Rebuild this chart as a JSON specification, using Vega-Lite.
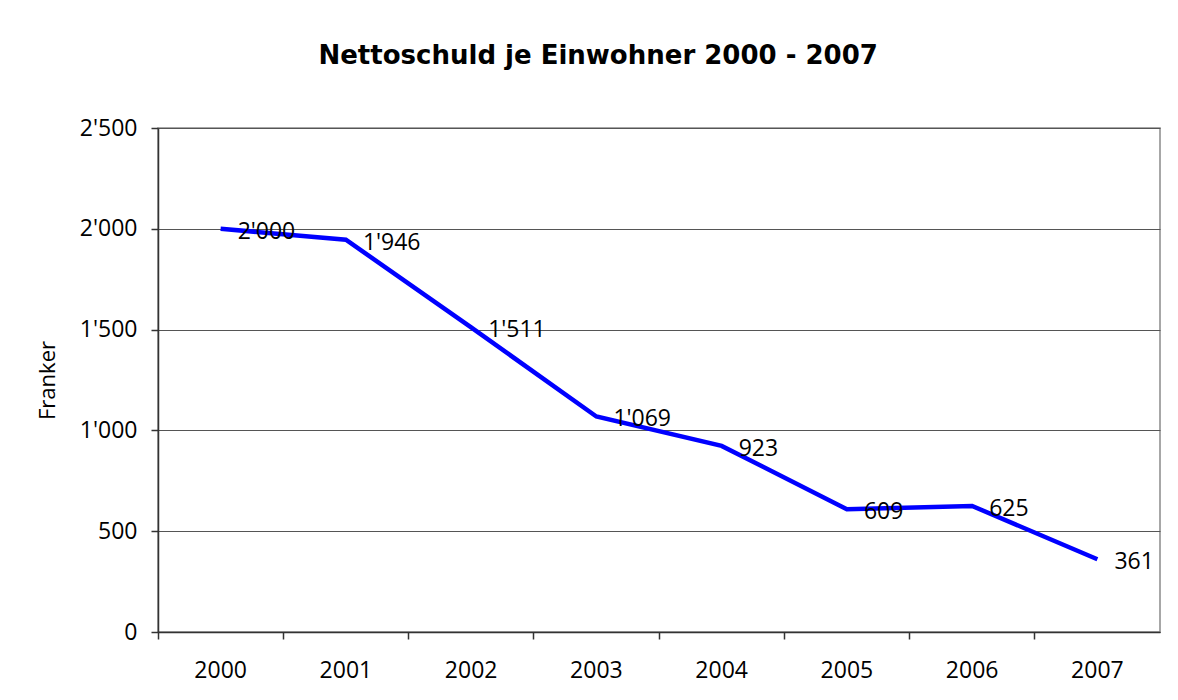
{
  "$schema": "https://vega.github.io/schema/vega-lite/v6.json",
  "width": 1002,
  "height": 504,
  "autosize": "none",
  "padding": {"left": 158, "top": 128, "right": 18, "bottom": 68},
  "background": "white",
  "title": {
    "text": "Nettoschuld je Einwohner 2000 - 2007",
    "font": "DejaVu Sans",
    "fontSize": 26,
    "fontWeight": "bold",
    "color": "black",
    "anchor": "middle",
    "frame": "bounds",
    "offset": 48
  },
  "config": {
    "locale": {"number": {"decimal": ".", "thousands": "'", "grouping": [3], "currency": ["", ""]}},
    "view": {"stroke": "#8a8a8a", "strokeWidth": 1.5},
    "axis": {
      "labelFont": "Open Sans",
      "labelFontSize": 23,
      "labelColor": "black",
      "titleFont": "Open Sans",
      "titleFontSize": 22,
      "titleFontWeight": "normal",
      "titleColor": "black",
      "domainColor": "#333333",
      "domainWidth": 1.5,
      "tickColor": "#333333",
      "tickWidth": 1.5
    }
  },
  "data": {
    "values": [
      {"Jahr": "2000", "Wert": 2000},
      {"Jahr": "2001", "Wert": 1946},
      {"Jahr": "2002", "Wert": 1511},
      {"Jahr": "2003", "Wert": 1069},
      {"Jahr": "2004", "Wert": 923},
      {"Jahr": "2005", "Wert": 609},
      {"Jahr": "2006", "Wert": 625},
      {"Jahr": "2007", "Wert": 361}
    ]
  },
  "encoding": {
    "x": {
      "field": "Jahr",
      "type": "ordinal",
      "scale": {"type": "band", "paddingInner": 0, "paddingOuter": 0},
      "axis": {
        "title": null,
        "labelAngle": 0,
        "bandPosition": 0,
        "tickSize": 7,
        "labelPadding": 20,
        "grid": false
      }
    },
    "y": {
      "field": "Wert",
      "type": "quantitative",
      "scale": {"domain": [0, 2500]},
      "axis": {
        "title": "Franker",
        "values": [0, 500, 1000, 1500, 2000, 2500],
        "format": ",.0f",
        "tickSize": 7,
        "labelPadding": 14,
        "titlePadding": 20,
        "grid": true,
        "gridColor": "#555555",
        "gridWidth": 1.2
      }
    }
  },
  "layer": [
    {
      "mark": {"type": "line", "color": "#0000ff", "strokeWidth": 4.5}
    },
    {
      "mark": {"type": "text", "align": "left", "baseline": "middle", "dx": 17, "dy": 3, "font": "Open Sans", "fontSize": 23, "color": "black"},
      "encoding": {
        "text": {"field": "Wert", "type": "quantitative", "format": ","}
      }
    }
  ]
}
